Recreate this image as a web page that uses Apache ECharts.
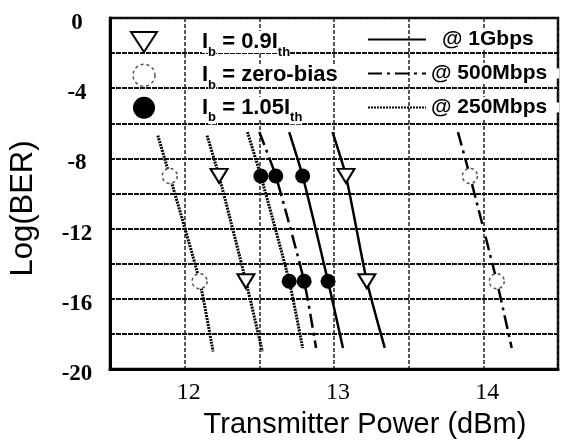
<!DOCTYPE html>
<html>
<head>
<meta charset="utf-8">
<script src="https://cdn.jsdelivr.net/npm/echarts@6/dist/echarts.min.js"></script>
<style>
  html, body { margin: 0; padding: 0; background: #fff; }
  #chart { width: 561px; height: 444px; }
</style>
</head>
<body>
<div id="chart"></div>
<script>
// BER curves: transmitter power (dBm) at each Log(BER) level
const yLevelsDotted = [-6.7, -9, -15, -19]
const yLevels = [-6.5, -9, -15, -18.8]

const zb250 = [11.82, 11.90, 12.10, 12.19]
const lo250 = [12.15, 12.23, 12.41, 12.52]
const hi250 = [12.42, 12.51, 12.70, 12.79]
const hi500 = [12.50, 12.61, 12.80, 12.88]
const zb500 = [13.83, 13.91, 14.09, 14.19]
const hi1g = [12.70, 12.79, 12.96, 13.06]
const lo1g = [12.99, 13.08, 13.22, 13.34]

const xTicks = [12, 13, 14]
const yTicks = [0, -4, -8, -12, -16, -20]

const markerNames = ['Ib = 0.9Ith', 'Ib = zero-bias', 'Ib = 1.05Ith']
const rateNames = ['@ 1Gbps', '@ 500Mbps', '@ 250Mbps']

const pairs = (xs, ys) => xs.map((x, i) => [x, ys[i]])
// markers sit at the -9 and -15 levels (indexes 1 and 2)
const marks = (xs, ys) => [[xs[1], ys[1]], [xs[2], ys[2]]]

const chart = echarts.init(document.getElementById('chart'))

const lineSolid = { color: '#000', width: 2.5, type: 'solid' }
const lineDashDot = { color: '#000', width: 2.5, type: [14, 5, 3, 5] }
const lineDotted = { color: '#000', width: 3, type: [2, 1] }

const curve = (name, xs, ys, style) => ({
  name: name,
  type: 'line',
  data: pairs(xs, ys),
  smooth: 0.2,
  symbol: 'none',
  lineStyle: style,
  itemStyle: { color: '#000' },
  z: 3
})

const legendLeftFmt = {
  'Ib = 0.9Ith': '{g|}{t|I}{s|b}{t| = 0.9I}{s|th}{e| }',
  'Ib = zero-bias': '{g|}{t|I}{s|b}{t| = zero-bias}{e| }',
  'Ib = 1.05Ith': '{g|}{t|I}{s|b}{t| = 1.05I}{s|th}{e| }'
}

const option = {
  backgroundColor: '#fff',
  animation: false,
  grid: {
    left: 108,
    top: 18,
    right: -5,
    bottom: 69,
    show: true,
    borderColor: '#000',
    borderWidth: 2.5,
    backgroundColor: 'transparent'
  },
  legend: [
    {
      data: [
        { name: markerNames[0], icon: 'path://M0,0 L26,0 L13,20 Z' },
        { name: markerNames[1], itemStyle: { color: '#fff', borderColor: '#555', borderWidth: 1.5, borderType: [3, 3] } },
        { name: markerNames[2] }
      ],
      orient: 'vertical',
      left: 130,
      top: 31,
      padding: 0,
      itemGap: 5,
      itemWidth: 26,
      itemHeight: 22,
      selectedMode: false,
      formatter: name => legendLeftFmt[name],
      textStyle: {
        rich: {
          g: { width: 40, lineHeight: 33 },
          t: {
            fontFamily: 'Liberation Sans, Arial',
            fontWeight: 'bold',
            fontSize: 22,
            color: '#000',
            lineHeight: 33,
            backgroundColor: '#fff'
          },
          s: {
            fontFamily: 'Liberation Sans, Arial',
            fontWeight: 'bold',
            fontSize: 13,
            color: '#000',
            lineHeight: 20,
            verticalAlign: 'bottom',
            backgroundColor: '#fff'
          },
          e: { width: 25, lineHeight: 33, backgroundColor: '#fff', fontSize: 10 }
        }
      }
    },
    {
      data: rateNames,
      orient: 'vertical',
      left: 367,
      top: 29,
      padding: 0,
      itemGap: 13,
      itemWidth: 58,
      itemHeight: 20,
      selectedMode: false,
      itemStyle: { opacity: 0 },
      formatter: name => name === '@ 1Gbps' ? '{g|}{t|' + name + '}{e| }' : '{t|' + name + '}{e| }',
      textStyle: {
        rich: {
          g: { width: 11, lineHeight: 30 },
          t: {
            fontFamily: 'Liberation Sans, Arial',
            fontWeight: 'bold',
            fontSize: 21,
            color: '#000',
            lineHeight: 30,
            backgroundColor: '#fff'
          },
          e: { width: 12, lineHeight: 30, backgroundColor: '#fff', fontSize: 10 }
        }
      }
    }
  ],
  xAxis: {
    type: 'value',
    min: 11.5,
    max: 14.5,
    interval: 0.5,
    name: 'Transmitter Power (dBm)',
    nameLocation: 'middle',
    nameGap: 41,
    nameTextStyle: {
      fontFamily: 'Liberation Sans, Arial',
      fontSize: 29,
      color: '#000',
      padding: [0, 0, 0, 62]
    },
    axisLine: { show: true, onZero: false, lineStyle: { color: '#000', width: 3 } },
    axisTick: { show: false },
    axisLabel: {
      margin: 12,
      color: '#000',
      fontFamily: 'Liberation Serif, Times New Roman',
      fontSize: 24,
      padding: [0, 0, 0, 8],
      formatter: v => xTicks.includes(v) ? String(v) : ''
    },
    splitLine: {
      show: true,
      lineStyle: { color: '#222', width: 1.5, type: [4, 2] }
    }
  },
  yAxis: {
    type: 'value',
    min: -20,
    max: 0,
    interval: 2,
    name: 'Log(BER)',
    nameLocation: 'middle',
    nameGap: 71,
    nameTextStyle: {
      fontFamily: 'Liberation Sans, Arial',
      fontSize: 31,
      color: '#000',
      padding: [0, 30, 0, 0]
    },
    axisLine: { show: true, onZero: false, lineStyle: { color: '#000', width: 3 } },
    axisTick: { show: false },
    axisLabel: {
      margin: 33,
      align: 'center',
      verticalAlign: 'top',
      lineHeight: 10,
      color: '#000',
      fontFamily: 'Liberation Serif, Times New Roman',
      fontWeight: 'bold',
      fontSize: 23,
      formatter: v => yTicks.includes(v) ? String(v) : ''
    },
    splitLine: {
      show: true,
      lineStyle: { color: '#111', width: 2, type: [5, 1] }
    }
  },
  series: [
    curve('@ 1Gbps', hi1g, yLevels, lineSolid),
    curve('@ 1Gbps', lo1g, yLevels, lineSolid),
    curve('@ 500Mbps', hi500, yLevels, lineDashDot),
    curve('@ 500Mbps', zb500, yLevels, lineDashDot),
    curve('@ 250Mbps', zb250, yLevelsDotted, lineDotted),
    curve('@ 250Mbps', lo250, yLevelsDotted, lineDotted),
    curve('@ 250Mbps', hi250, yLevels, lineDotted),
    {
      name: 'Ib = 0.9Ith',
      type: 'scatter',
      data: marks(lo250, yLevelsDotted).concat(marks(lo1g, yLevels)),
      symbol: 'triangle',
      symbolRotate: 180,
      symbolSize: [17, 14],
      itemStyle: { color: '#fff', borderColor: '#000', borderWidth: 2, opacity: 1 },
      z: 5
    },
    {
      name: 'Ib = zero-bias',
      type: 'scatter',
      data: marks(zb250, yLevelsDotted).concat(marks(zb500, yLevels)),
      symbol: 'circle',
      symbolSize: 15,
      itemStyle: { color: '#fff', borderColor: '#555', borderWidth: 1.5, borderType: [3, 3], opacity: 1 },
      z: 5
    },
    {
      name: 'Ib = 1.05Ith',
      type: 'scatter',
      data: marks(hi250, yLevels).concat(marks(hi500, yLevels), marks(hi1g, yLevels)),
      symbol: 'circle',
      symbolSize: 15,
      itemStyle: { color: '#000', opacity: 1 },
      z: 5
    }
  ]
}

chart.setOption(option)
</script>
</body>
</html>
